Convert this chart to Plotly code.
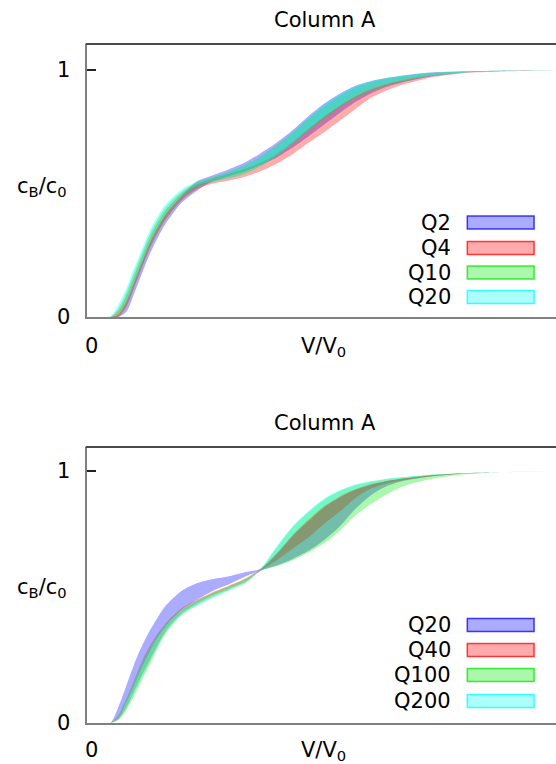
import plotly.graph_objects as go

# ---------------- data ----------------
X = [0.0, 0.1, 0.15, 0.2, 0.25, 0.3, 0.35, 0.4, 0.45, 0.5, 0.6, 0.7, 0.8, 0.9, 1.0,
     1.1, 1.2, 1.3, 1.4, 1.5, 1.6, 1.7, 1.8, 1.9, 2.0, 2.1, 2.2, 2.4, 2.6, 2.8, 3.0]

# top panel: Q2, Q4, Q10, Q20 (lower / upper band limits)
top_q2_lo = [0, 0, 0, 0, 0.02, 0.094, 0.177, 0.256, 0.322, 0.378, 0.462, 0.512, 0.55, 0.57, 0.59,
             0.615, 0.645, 0.685, 0.73, 0.778, 0.826, 0.87, 0.906, 0.932, 0.95, 0.964, 0.976, 0.99, 0.995, 0.998, 1.0]
top_q2_hi = [0, 0, 0, 0.01, 0.06, 0.14, 0.222, 0.3, 0.362, 0.415, 0.49, 0.55, 0.574, 0.598, 0.625,
             0.663, 0.705, 0.755, 0.812, 0.863, 0.904, 0.936, 0.955, 0.968, 0.978, 0.986, 0.991, 0.995, 0.997, 0.999, 1.0]
top_q4_lo = [0, 0, 0, 0, 0.04, 0.118, 0.2, 0.278, 0.342, 0.395, 0.472, 0.518, 0.54, 0.553, 0.568,
             0.59, 0.62, 0.658, 0.704, 0.747, 0.794, 0.842, 0.888, 0.918, 0.941, 0.957, 0.972, 0.988, 0.993, 0.997, 1.0]
top_q4_hi = [0, 0, 0, 0.025, 0.085, 0.165, 0.245, 0.322, 0.382, 0.432, 0.5, 0.54, 0.562, 0.58, 0.6,
             0.625, 0.66, 0.708, 0.762, 0.81, 0.855, 0.893, 0.921, 0.942, 0.957, 0.97, 0.98, 0.99, 0.995, 0.998, 1.0]
top_q10_lo = [0, 0, 0, 0.005, 0.048, 0.125, 0.207, 0.285, 0.348, 0.402, 0.479, 0.525, 0.547, 0.562, 0.58,
              0.61, 0.651, 0.70, 0.752, 0.80, 0.847, 0.885, 0.915, 0.937, 0.952, 0.966, 0.977, 0.99, 0.995, 0.998, 1.0]
top_q10_hi = [0, 0, 0, 0.035, 0.1, 0.182, 0.261, 0.338, 0.397, 0.445, 0.508, 0.546, 0.566, 0.588, 0.614,
              0.65, 0.695, 0.746, 0.802, 0.853, 0.895, 0.929, 0.951, 0.965, 0.975, 0.984, 0.989, 0.994, 0.997, 0.999, 1.0]
top_q20_lo = [0, 0, 0, 0.02, 0.065, 0.145, 0.226, 0.304, 0.366, 0.418, 0.49, 0.533, 0.548, 0.563, 0.582,
              0.612, 0.652, 0.70, 0.755, 0.81, 0.855, 0.898, 0.928, 0.947, 0.962, 0.973, 0.982, 0.991, 0.995, 0.998, 1.0]
top_q20_hi = [0, 0, 0.003, 0.05, 0.115, 0.198, 0.276, 0.352, 0.41, 0.457, 0.516, 0.548, 0.565, 0.588, 0.613,
              0.648, 0.69, 0.745, 0.805, 0.858, 0.901, 0.934, 0.954, 0.967, 0.977, 0.985, 0.99, 0.995, 0.997, 0.999, 1.0]

# bottom panel: Q20, Q40, Q100, Q200
bot_q20_lo = [0, 0, 0, 0.02, 0.08, 0.15, 0.22, 0.285, 0.34, 0.385, 0.45, 0.49, 0.525, 0.55, 0.58,
              0.605, 0.625, 0.65, 0.682, 0.725, 0.78, 0.85, 0.905, 0.94, 0.96, 0.971, 0.98, 0.99, 0.995, 0.998, 1.0]
bot_q20_hi = [0, 0, 0, 0.063, 0.147, 0.233, 0.306, 0.368, 0.42, 0.466, 0.524, 0.555, 0.571, 0.582, 0.598,
              0.612, 0.67, 0.74, 0.80, 0.855, 0.895, 0.925, 0.946, 0.96, 0.97, 0.978, 0.984, 0.991, 0.995, 0.998, 1.0]
bot_q40_lo = [0, 0, 0, 0.015, 0.06, 0.125, 0.19, 0.25, 0.31, 0.365, 0.435, 0.475, 0.507, 0.533, 0.56,
              0.605, 0.645, 0.69, 0.735, 0.79, 0.838, 0.893, 0.93, 0.95, 0.963, 0.972, 0.98, 0.99, 0.995, 0.998, 1.0]
bot_q40_hi = [0, 0, 0, 0.03, 0.095, 0.17, 0.245, 0.305, 0.355, 0.395, 0.455, 0.49, 0.52, 0.545, 0.572,
              0.612, 0.672, 0.745, 0.806, 0.86, 0.9, 0.928, 0.948, 0.961, 0.97, 0.978, 0.984, 0.991, 0.995, 0.998, 1.0]
bot_q100_lo = [0, 0, 0, 0.012, 0.05, 0.107, 0.171, 0.233, 0.297, 0.355, 0.427, 0.468, 0.50, 0.528, 0.555,
               0.603, 0.622, 0.645, 0.675, 0.712, 0.762, 0.823, 0.87, 0.908, 0.938, 0.957, 0.971, 0.987, 0.994, 0.997, 1.0]
bot_q100_hi = [0, 0, 0, 0.025, 0.088, 0.16, 0.235, 0.295, 0.348, 0.39, 0.45, 0.487, 0.517, 0.543, 0.57,
               0.61, 0.695, 0.775, 0.835, 0.885, 0.92, 0.944, 0.958, 0.968, 0.975, 0.981, 0.986, 0.992, 0.995, 0.998, 1.0]
bot_q200_lo = [0, 0, 0, 0.018, 0.06, 0.12, 0.185, 0.245, 0.305, 0.36, 0.428, 0.466, 0.497, 0.525, 0.553,
               0.606, 0.668, 0.742, 0.805, 0.858, 0.898, 0.927, 0.947, 0.961, 0.971, 0.978, 0.984, 0.991, 0.995, 0.998, 1.0]
bot_q200_hi = [0, 0, 0, 0.03, 0.095, 0.168, 0.24, 0.3, 0.35, 0.39, 0.448, 0.482, 0.51, 0.535, 0.562,
               0.612, 0.70, 0.78, 0.84, 0.89, 0.923, 0.946, 0.959, 0.969, 0.976, 0.981, 0.986, 0.992, 0.995, 0.998, 1.0]

top_names = ["Q2", "Q4", "Q10", "Q20"]
bot_names = ["Q20", "Q40", "Q100", "Q200"]
top_bands = [(top_q2_lo, top_q2_hi), (top_q4_lo, top_q4_hi), (top_q10_lo, top_q10_hi), (top_q20_lo, top_q20_hi)]
bot_bands = [(bot_q20_lo, bot_q20_hi), (bot_q40_lo, bot_q40_hi), (bot_q100_lo, bot_q100_hi), (bot_q200_lo, bot_q200_hi)]

TITLE = "Column A"
XLABEL = "V/V<sub>0</sub>"
YLABEL = "c<sub>B</sub>/c<sub>0</sub>"

# ---------------- style ----------------
W, H = 556, 764          # target picture size (layout designed in these pixels)
H_FIG = 776              # rendered figure height (picture is squeezed to 764)
FONT = "DejaVu Sans"
FS = 21
TXT = "#000"
RGB = [(0, 0, 255), (255, 0, 0), (0, 230, 0), (0, 255, 255)]
ALPHA = 0.33


def fx(p):
    return p / W


def fy(p):
    return 1 - p / H


fig = go.Figure()

panels = [
    dict(xa="x", ya="y", bands=top_bands),
    dict(xa="x2", ya="y2", bands=bot_bands),
]
for pan in panels:
    for (lo, hi), c in zip(pan["bands"], RGB):
        fill = "rgba(%d,%d,%d,%.2f)" % (c[0], c[1], c[2], ALPHA)
        fig.add_trace(go.Scatter(x=X, y=lo, mode="lines", xaxis=pan["xa"], yaxis=pan["ya"],
                                 line=dict(width=0, shape="spline", smoothing=0.8),
                                 hoverinfo="skip", showlegend=False))
        fig.add_trace(go.Scatter(x=X, y=hi, mode="lines", xaxis=pan["xa"], yaxis=pan["ya"],
                                 line=dict(width=0, shape="spline", smoothing=0.8),
                                 fill="tonexty", fillcolor=fill,
                                 hoverinfo="skip", showlegend=False))

geo = [dict(top=44, bot=317, ymax=1.105, title_y=20, xl_y=347, yl_y=187, leg=[222.5, 248, 272.5, 297]),
       dict(top=447, bot=723, ymax=1.095, title_y=423, xl_y=751, yl_y=588, leg=[625, 650, 675, 701])]

XMAX = (W - 85) / 158.7
axis_common = dict(showgrid=False, zeroline=False, showline=True, linecolor="#808080", linewidth=2,
                   tickfont=dict(family=FONT, size=FS, color=TXT))

fig.update_layout(
    xaxis=dict(domain=[fx(85), 1], range=[0, XMAX], anchor="y", ticks="",
               tickvals=[0], ticktext=["0"], ticklabelstandoff=9, ticklabelshift=5, **axis_common),
    yaxis=dict(domain=[fy(geo[0]["bot"]), fy(geo[0]["top"])], range=[0, geo[0]["ymax"]], anchor="x",
               ticks="inside", ticklen=9, tickwidth=1.5, tickcolor="#222",
               tickvals=[0, 1], ticktext=["0", "1"], ticklabelstandoff=10, **axis_common),
    xaxis2=dict(domain=[fx(85), 1], range=[0, XMAX], anchor="y2", ticks="",
                tickvals=[0], ticktext=["0"], ticklabelstandoff=7, ticklabelshift=5, **axis_common),
    yaxis2=dict(domain=[fy(geo[1]["bot"]), fy(geo[1]["top"])], range=[0, geo[1]["ymax"]], anchor="x2",
                ticks="inside", ticklen=9, tickwidth=1.5, tickcolor="#222",
                tickvals=[0, 1], ticktext=["0", "1"], ticklabelstandoff=10, **axis_common),
)

annotations = []
shapes = []
for g, names in zip(geo, [top_names, bot_names]):
    # top border of the axes box
    shapes.append(dict(type="line", xref="paper", yref="paper", x0=fx(84), x1=1,
                       y0=fy(g["top"]), y1=fy(g["top"]), line=dict(color="#4a4a4a", width=2)))
    for txt, xc, yc in [(TITLE, 324, g["title_y"]), (XLABEL, 323, g["xl_y"]), (YLABEL, 40, g["yl_y"])]:
        annotations.append(dict(text=txt, x=fx(xc), y=fy(yc), xref="paper", yref="paper",
                                showarrow=False, xanchor="center", yanchor="middle",
                                font=dict(family=FONT, size=FS, color=TXT)))
    for name, yc, c in zip(names, g["leg"], RGB):
        annotations.append(dict(text=name, x=fx(453), y=fy(yc), xref="paper", yref="paper",
                                showarrow=False, xanchor="right", yanchor="middle",
                                font=dict(family=FONT, size=FS, color=TXT)))
        shapes.append(dict(type="rect", xref="paper", yref="paper",
                           x0=fx(467), x1=fx(534), y0=fy(yc + 6.5), y1=fy(yc - 6.5),
                           fillcolor="rgba(%d,%d,%d,%.2f)" % (c[0], c[1], c[2], ALPHA),
                           line=dict(color="rgba(%d,%d,%d,0.75)" % c, width=1.5)))

fig.update_layout(width=W, height=H_FIG, margin=dict(l=0, r=0, t=0, b=0),
                  paper_bgcolor="white", plot_bgcolor="white", showlegend=False,
                  annotations=annotations, shapes=shapes,
                  font=dict(family=FONT, size=FS, color=TXT))

fig.write_html("out.html", config={"displayModeBar": False},
               post_script="document.body.style.margin='0px';document.body.style.overflow='hidden';")
